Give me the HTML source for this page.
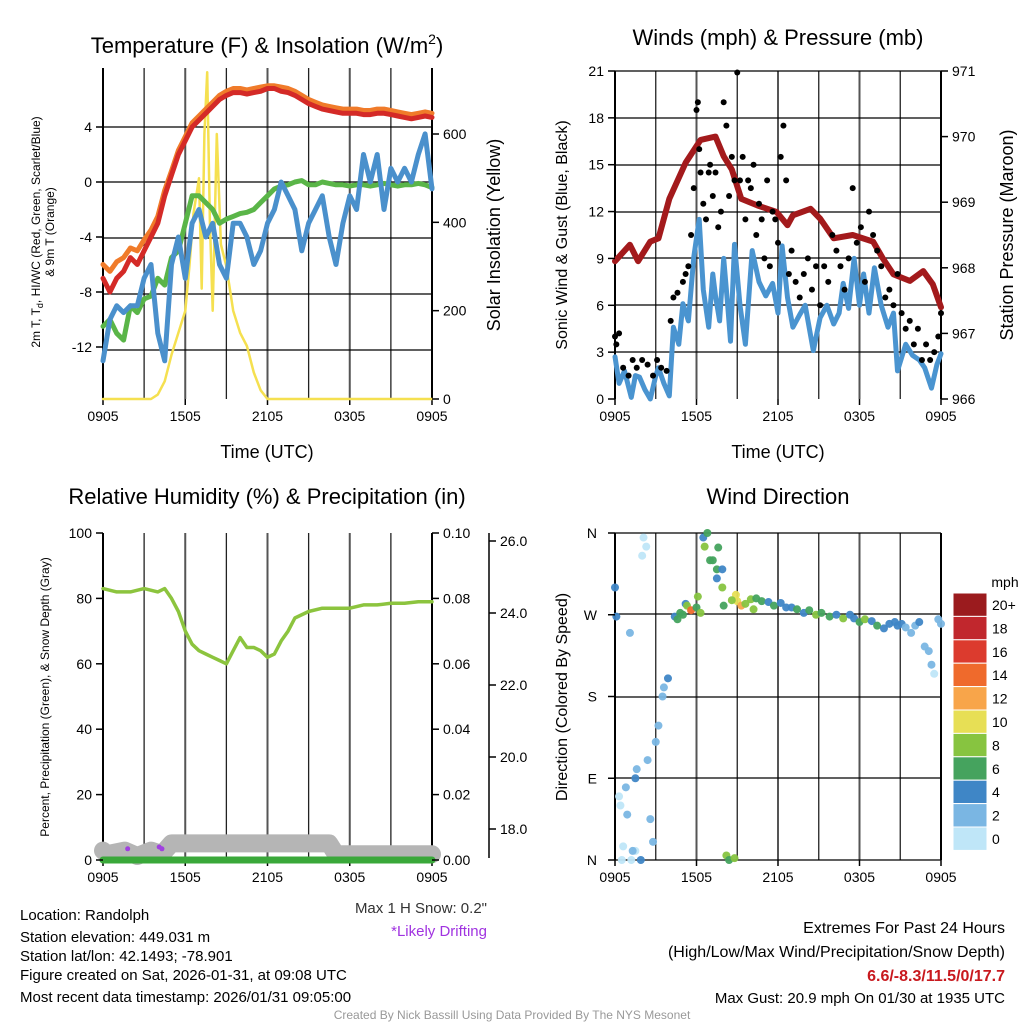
<!DOCTYPE html>
<html><head><meta charset="utf-8">
<style>
body{margin:0;background:#fff;}
svg{display:block;font-family:"Liberation Sans",sans-serif;}
</style></head>
<body>
<svg id="c" width="1024" height="1024" viewBox="0 0 1024 1024" xmlns="http://www.w3.org/2000/svg"></svg>
<script>
// ---------- DATA ----------
const hourTicks = ["0905","1505","2105","0305","0905"];
// Panel 1: temperature (F) at half-hour steps (h = 0..24)
const tempHours = [0,0.5,1,1.5,2,2.5,3,3.5,4,4.5,5,5.5,6,6.5,7,7.5,8,8.5,9,9.5,10,10.5,11,11.5,12,12.5,13,13.5,14,14.5,15,15.5,16,16.5,17,17.5,18,18.5,19,19.5,20,20.5,21,21.5,22,22.5,23,23.5,24];
const temp2m = [-7,-8,-7,-6.5,-5.5,-6,-5,-4,-3,-1,0.5,2,3,4,4.5,5,5.5,6,6.3,6.5,6.5,6.4,6.5,6.6,6.8,6.8,6.6,6.5,6.3,6,5.7,5.5,5.3,5.2,5.1,5,5,5,4.9,4.9,5,5,4.9,4.8,4.7,4.6,4.7,4.8,4.7];
const temp9m = [-6,-6.5,-5.8,-5.5,-4.8,-5,-4.2,-3.5,-2.5,-0.6,0.8,2.3,3.3,4.3,4.8,5.3,5.8,6.3,6.6,6.8,6.8,6.7,6.8,6.9,7,7,6.9,6.8,6.6,6.3,6,5.8,5.6,5.5,5.4,5.3,5.3,5.3,5.2,5.2,5.3,5.3,5.2,5.1,5,4.9,5,5.1,5];
const dewpoint = [-10.5,-10,-11,-11.5,-9,-9.5,-8.5,-8.3,-7,-7.5,-5.5,-5,-3,-1,-1,-1.5,-2,-3,-2.7,-2.5,-2.3,-2.2,-2,-1.5,-1,-0.5,-0.3,-0.2,0,0.1,-0.2,-0.2,0,-0.1,-0.2,-0.2,-0.3,-0.2,-0.2,-0.3,-0.2,-0.1,-0.2,-0.3,-0.2,-0.2,-0.1,-0.2,-0.4];
const windChill = [-13,-10,-9,-9.5,-9,-9,-7,-6,-11,-13,-6,-4,-7,-3,-2,-4,-3,-6,-7,-3,-3,-4,-6,-5,-3,-2,0,-1,-2,-5,-3,-2,-1,-4,-6,-3,-1,-2,2,0,2,-2,1,0,1,0,2,3.5,-0.5];
const solarHours = [0,3.5,4,4.5,5,5.5,6,6.3,6.6,7,7.2,7.4,7.6,7.8,8,8.3,8.6,9,9.5,10,10.5,11,11.5,12,24];
const solar = [0,0,10,40,100,150,200,300,420,500,250,600,740,400,200,600,350,300,200,150,120,60,20,0,0];
// Panel 2: wind (mph), pressure (mb)
const windHours = [0,0.3,0.7,1.2,1.5,1.8,2.2,2.6,3,3.2,3.6,4,4.3,4.7,5,5.4,5.8,6.2,6.5,6.9,7.2,7.4,7.7,8,8.3,8.5,8.8,9.2,9.6,10.1,10.6,11.1,11.6,12,12.3,12.7,13.1,13.6,14,14.6,15.1,15.6,16.1,16.5,16.8,17.2,17.6,18,18.3,18.7,19.1,19.6,20.1,20.5,20.8,21.4,21.9,22.4,22.8,23.3,23.7,24];
const windSpeed = [2.7,1,1.8,0.1,1.5,1.4,0.6,0,1.5,2,1,0.2,4.6,3.5,6.1,5,9.1,11.5,7,4.6,8,6.6,5,9,6,3.7,9.9,6,3.5,9.5,7.5,6.6,7.4,5.5,9.8,6.5,4.6,5.4,6,3.1,5.2,6,4.8,5.5,7.4,5.8,9,6,8,5.5,8.4,6,4.6,5.5,1.8,3.5,2.8,2.5,2,0.7,2.2,2.9];
const presHours = [0,1.1,1.7,2.6,3.2,4,5.2,6.3,7.4,8,8.6,9.3,10.5,11.9,12.7,13.1,14.4,15.1,16.1,17.5,19,19.7,20.5,21.7,22.7,23.4,24];
const pressure = [968.1,968.35,968.1,968.4,968.45,969.05,969.6,969.95,970.0,969.7,969.5,969.05,968.95,968.85,968.65,968.8,968.9,968.75,968.45,968.5,968.4,968.15,967.9,967.8,967.95,967.75,967.4];
const gustHours = [0,0.1,0.3,0.6,1,1.3,1.6,2,2.4,2.8,3.1,3.4,3.8,4.1,4.3,4.6,5,5.2,5.4,5.6,5.8,6,6.1,6.2,6.3,6.5,6.7,6.9,7,7.2,7.4,7.6,7.8,8,8.2,8.4,8.6,8.8,9,9.2,9.4,9.6,9.8,10,10.2,10.4,10.6,10.8,11,11.2,11.4,11.6,11.8,12,12.2,12.4,12.6,12.8,13,13.3,13.6,13.9,14.2,14.5,14.8,15.1,15.4,15.7,16,16.3,16.6,16.9,17.2,17.5,17.8,18.1,18.4,18.7,19,19.3,19.6,19.9,20.2,20.5,20.8,21.1,21.4,21.7,22,22.3,22.6,22.9,23.2,23.5,23.8,24];
const gustSpeed = [4,3.5,4.2,2,1.5,2.5,2,2.5,2.2,1.5,2.5,2,1.8,5,6.5,6.8,7.5,8,8.5,10.5,13.5,18.5,19,16,14.5,12.5,11.5,14.5,15,13,14.5,11,12,19,17.5,13,15.5,14,20.9,14,15.5,11.5,14,13.5,15,10.5,12.5,11.5,9,14,8.5,12,11.5,10,15.5,17.5,14,8,9.5,7.5,6.5,8,9,7,8.5,6,8.5,7.5,10.5,9.5,8.5,7,9,13.5,10,11,7.5,12,10.5,9.5,8.5,6.5,7,6,8,5.5,4.5,5,3.5,4.5,2.5,3.5,2.5,3,4,5.5];
// Panel 3: RH (%)
const rhHours = [0,1,2,3,4,4.5,5,5.5,6,6.5,7,7.5,8,8.5,9,9.5,10,10.5,11,11.5,12,12.5,13,13.5,14,15,16,17,18,19,20,21,22,23,24];
const rh = [83,82,82,83,82,83,80,76,70,66,64,63,62,61,60,64,68,65,65,64,62,63,67,70,74,76,77,77,77,78,78,78.5,78.5,79,79];
const snowHours = [0,0.3,1.6,2.5,3.5,4.3,5,10,16.5,17,24];
const snowDepth = [17.4,17.3,17.4,17.25,17.4,17.3,17.6,17.6,17.6,17.3,17.3];
const driftHours = [1.8,4.1,4.3];
const driftDepth = [17.45,17.5,17.45];
// Panel 4: wind direction [hour, degrees, speed]
const dirHours = [0,0.1,0.4,0.6,0.5,0.3,0.9,1.2,1.5,1.6,1.3,0.8,1.1,1.5,1.9,2.4,2.6,2.8,2.3,2.1,2.0,3.0,3.2,3.5,3.6,3.9,4.4,4.6,4.8,5.0,5.2,5.3,5.6,6.0,6.1,6.3,6.5,6.6,6.8,7.0,7.2,7.5,7.5,7.9,8.0,8.2,8.4,8.8,9.0,9.3,9.6,10.0,10.4,10.8,11.3,11.7,12.2,12.6,13.0,13.4,13.9,14.3,14.8,15.2,15.8,16.3,16.8,17.3,17.6,18.0,18.4,18.9,19.3,19.8,20.2,20.6,20.8,21.1,21.4,21.8,22.1,22.4,22.8,23.1,23.3,23.5,23.8,24,7.6,7.9,8.9,10.2,8.6];
const dirDeg = [300,268,60,15,0,70,50,0,10,100,10,80,250,90,0,110,45,20,345,355,335,130,148,180,190,200,268,265,272,270,282,280,275,278,290,272,355,345,360,330,330,310,320,300,280,5,0,2,285,280,282,287,288,285,284,280,283,278,278,276,272,275,270,272,268,270,266,270,266,262,265,263,258,255,260,262,258,260,256,250,258,262,235,230,215,205,265,260,344,320,292,276,286];
const dirSpeed = [3,3,0,0,0,0,1,0,0,1,1,1,1,3,3,1,1,1,0,0,0,1,1,1,2,3,3,5,5,5,4,7,13,6,7,8,4,7,6,6,5,4,6,7,6,7,6,7,9,11,8,7,6,5,4,5,4,4,4,6,4,5,7,6,5,4,7,3,3,5,8,4,5,4,3,3,3,4,2,2,2,3,1,2,1,0,2,2,5,3,9,7,7];
const cbLabels = ["20+","18","16","14","12","10","8","6","4","2","0"];
const cbColors = ["#9b1b1e","#c1272d","#dc3b2e","#ef6a2c","#f8a54a","#e7df55","#87c440","#45a35e","#3f86c6","#7ab6e3","#bfe6f8"];
// ---------- RENDER ----------
const NS="http://www.w3.org/2000/svg", svg=document.getElementById('c');
function el(tag, attrs, parent, text){const e=document.createElementNS(NS,tag);for(const k in attrs)e.setAttribute(k,attrs[k]);if(text!==undefined)e.textContent=text;(parent||svg).appendChild(e);return e;}
function lin(d0,d1,r0,r1){return v=>r0+(v-d0)*(r1-r0)/(d1-d0);}
function pathOf(xs,ys,fx,fy){return xs.map((h,i)=>(i?'L':'M')+fx(h).toFixed(1)+','+fy(ys[i]).toFixed(1)).join('');}
function txt(x,y,s,size,anchor,extra,name){const t=el('text',Object.assign({x:x,y:y,'font-size':size,'text-anchor':anchor||'middle',fill:'#000'},extra||{}),svg,s);return t;}
function frame(x0,x1,y0,y1,hlines,name){
  const g=el('g',{});
  for(let k=0;k<=8;k++){const x=x0+(x1-x0)*k/8;el('line',{x1:x,x2:x,y1:y0,y2:y1,stroke:k%2?'#222':'#555','stroke-width':k%2?1.3:2},g);}
  hlines.forEach(y=>el('line',{x1:x0,x2:x1,y1:y,y2:y,stroke:'#000','stroke-width':1.3},g));
  el('line',{x1:x0,x2:x0,y1:y0,y2:y1,stroke:'#000','stroke-width':2},g);
  el('line',{x1:x1,x2:x1,y1:y0,y2:y1,stroke:'#000','stroke-width':2},g);
  hourTicks.forEach((s,i)=>{const x=x0+(x1-x0)*i/4;el('line',{x1:x,x2:x,y1:y1,y2:y1+6,stroke:'#000','stroke-width':1.5},g);txt(x,y1+22,s,14,'middle',{},'x-tick-label');});
  return g;
}
function yticks(x,ticks,fy,side,fmt,size,name){ticks.forEach(v=>{const y=fy(v);el('line',{x1:x,x2:x+(side<0?-7:7),y1:y,y2:y,stroke:'#000','stroke-width':1.5});txt(x+(side<0?-11:11),y+5,fmt(v),size||14,side<0?'end':'start',{},name);});}
function line(xs,ys,fx,fy,color,w,name){const p=el('path',{d:pathOf(xs,ys,fx,fy),fill:'none',stroke:color,'stroke-width':w,'stroke-linejoin':'round','stroke-linecap':'round'});return p;}

// Panel 1
{const x0=103,x1=432,y0=68,y1=399;
 const fx=lin(0,24,x0,x1), fy=lin(0,4,182,127), fs=lin(0,600,399,134);
 frame(x0,x1,y0,y1,[127,182,238,294,350],'temperature-panel');
 line(solarHours,solar,fx,fs,'#f5e050',2.5,'solar-line');
 line(tempHours,dewpoint,fx,fy,'#5ab548',5,'dewpoint-line');
 line(tempHours,windChill,fx,fy,'#4a90cc',5,'windchill-line');
 line(tempHours,temp9m,fx,fy,'#f07b2a',5,'temp-9m-line');
 line(tempHours,temp2m,fx,fy,'#d42a27',5,'temp-2m-line');
 yticks(x0,[4,0,-4,-8,-12],fy,-1,v=>v,14,'y-tick-label');
 yticks(x1,[0,200,400,600],fs,1,v=>v,14,'y2-tick-label');
 txt(267,53,'Temperature (F) & Insolation (W/m',22,'middle',{},'panel-title').innerHTML='Temperature (F) &amp; Insolation (W/m<tspan dy="-9" font-size="14">2</tspan><tspan dy="9">)</tspan>';
 txt(267,458,'Time (UTC)',18,'middle',{},'x-axis-title');
 const t=txt(0,0,'',12,'middle',{transform:'translate(40,232) rotate(-90)'},'y-axis-title');
 t.innerHTML='<tspan x="0" dy="0">2m T, T<tspan font-size="9" dy="3">d</tspan><tspan dy="-3">, HI/WC (Red, Green, Scarlet/Blue)</tspan></tspan><tspan x="0" dy="14">&amp; 9m T (Orange)</tspan>';
 txt(0,0,'Solar Insolation (Yellow)',18,'middle',{transform:'translate(500,235) rotate(-90)'},'y2-axis-title');
}
// Panel 2
{const x0=615,x1=941,y0=71,y1=399;
 const fx=lin(0,24,x0,x1), fy=lin(0,21,y1,y0), fp=lin(966,971,y1,y0);
 frame(x0,x1,y0,y1,[71,118,165,212,258,305,352],'wind-panel');
 line(windHours,windSpeed,fx,fy,'#4a94d0',5,'wind-speed-line');
 line(presHours,pressure,fx,fp,'#a31a1c',6,'pressure-line');
 const g=el('g',{});
 gustHours.forEach((h,i)=>{const c=el('circle',{cx:fx(h),cy:fy(gustSpeed[i]),r:3,fill:'#000'},g);});
 yticks(x0,[0,3,6,9,12,15,18,21],fy,-1,v=>v,14,'y-tick-label');
 yticks(x1,[966,967,968,969,970,971],fp,1,v=>v,14,'y2-tick-label');
 txt(778,45,'Winds (mph) & Pressure (mb)',22,'middle',{},'panel-title');
 txt(778,458,'Time (UTC)',18,'middle',{},'x-axis-title');
 txt(0,0,'Sonic Wind & Gust (Blue, Black)',16,'middle',{transform:'translate(567,235) rotate(-90)'},'y-axis-title');
 txt(0,0,'Station Pressure (Maroon)',18,'middle',{transform:'translate(1013,235) rotate(-90)'},'y2-axis-title');
}
// Panel 3
{const x0=103,x1=432,y0=533,y1=860;
 const fx=lin(0,24,x0,x1), fy=lin(0,100,y1,y0), fpr=lin(0,0.1,y1,y0), fsd=lin(18,26,829,541);
 frame(x0,x1,y0,y1,[],'humidity-panel');
 line(snowHours,snowDepth,fx,fsd,'#b5b5b5',18,'snow-depth-line');
 const g=el('g',{});
 driftHours.forEach((h,i)=>{const c=el('circle',{cx:fx(h),cy:fsd(driftDepth[i]),r:2.5,fill:'#a040e0'},g);});
 line([0,24],[0,0],fx,fpr,'#3aa83a',7,'precip-line');
 line(rhHours,rh,fx,fy,'#8cc43e',3.5,'rh-line');
 yticks(x0,[0,20,40,60,80,100],fy,-1,v=>v,14,'y-tick-label');
 yticks(x1,[0,0.02,0.04,0.06,0.08,0.1],fpr,1,v=>v.toFixed(2),14,'y2-tick-label');
 el('line',{x1:489,x2:489,y1:533,y2:858,stroke:'#000','stroke-width':1.5});
 yticks(489,[18,20,22,24,26],fsd,1,v=>v.toFixed(1),14,'y3-tick-label');
 txt(267,504,'Relative Humidity (%) & Precipitation (in)',22,'middle',{},'panel-title');
 txt(0,0,'Percent, Precipitation (Green), & Snow Depth (Gray)',12,'middle',{transform:'translate(49,697) rotate(-90)'},'y-axis-title');
}
// Panel 4
{const x0=615,x1=941,y0=533,y1=860;
 const fx=lin(0,24,x0,x1), fy=lin(0,360,y1,y0);
 frame(x0,x1,y0,y1,[533,614,697,778,860],'direction-panel');
 const g=el('g',{});
 dirHours.forEach((h,i)=>{const s=Math.min(10,Math.round(dirSpeed[i]/2));const c=el('circle',{cx:fx(h),cy:fy(dirDeg[i]),r:4,fill:cbColors[10-s],opacity:0.95},g);});
 ['N','E','S','W','N'].forEach((s,i)=>{const y=fy(i*90);el('line',{x1:x0,x2:x0-7,y1:y,y2:y,stroke:'#000','stroke-width':1.5});txt(x0-18,y+5,s,14,'end',{},'y-tick-label');});
 txt(778,504,'Wind Direction',22,'middle',{},'panel-title');
 txt(0,0,'Direction (Colored By Speed)',16,'middle',{transform:'translate(567,697) rotate(-90)'},'y-axis-title');
 const cb=el('g',{});
 cbLabels.forEach((s,i)=>{const y=593+i*23.4;const r=el('rect',{x:953,y:y,width:34,height:23.4,fill:cbColors[i],stroke:'#fff','stroke-width':1},cb);txt(992,y+17,s,14,'start',{},'legend-label');});
 txt(1005,587,'mph',14,'middle',{},'legend-title');
}
// Footer text
[['Location: Randolph',920],['Station elevation: 449.031 m',942],['Station lat/lon: 42.1493; -78.901',961],['Figure created on Sat, 2026-01-31, at 09:08 UTC',980],['Most recent data timestamp: 2026/01/31 09:05:00',1002]].forEach(a=>txt(20,a[1],a[0],15,'start',{},'station-info'));
txt(487,913,'Max 1 H Snow: 0.2"',15,'end',{fill:'#333'},'max-snow-note');
txt(487,936,'*Likely Drifting',15,'end',{fill:'#a033e0'},'drifting-note');
txt(1005,933,'Extremes For Past 24 Hours',16,'end',{},'extremes-title');
txt(1005,957,'(High/Low/Max Wind/Precipitation/Snow Depth)',16,'end',{},'extremes-subtitle');
txt(1005,981,'6.6/-8.3/11.5/0/17.7',16,'end',{fill:'#c8191e','font-weight':'bold'},'extremes-values');
txt(1005,1003,'Max Gust: 20.9 mph On 01/30 at 1935 UTC',15,'end',{},'max-gust');
txt(512,1019,'Created By Nick Bassill Using Data Provided By The NYS Mesonet',12,'middle',{fill:'#999'},'credit');
</script>
</body></html>
